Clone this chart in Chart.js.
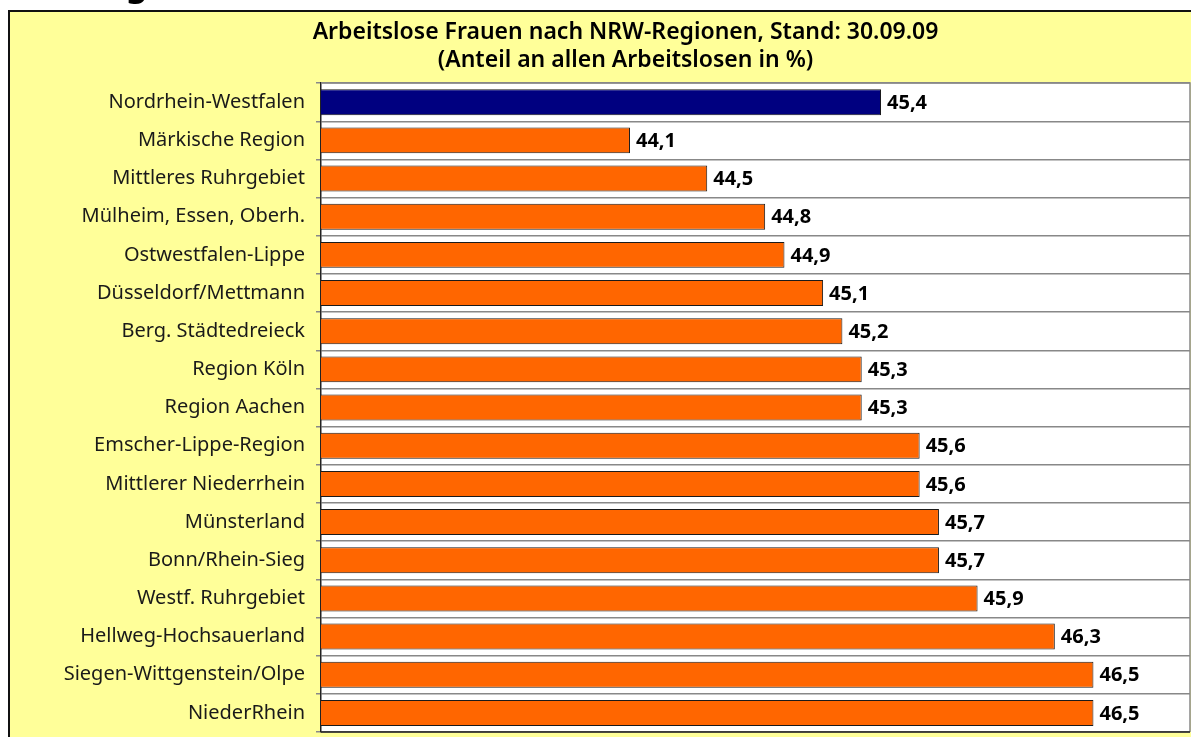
<!DOCTYPE html>
<html>
<head>
<meta charset="utf-8">
<script src="https://cdn.jsdelivr.net/npm/chart.js@4/dist/chart.umd.min.js"></script>
<style>
  html, body { margin: 0; padding: 0; background: #fff; overflow: hidden; }
  #wrap { position: relative; width: 1191px; height: 737px; }
  canvas { display: block; }
</style>
</head>
<body>
<div id="wrap"><canvas id="chart" width="1191" height="737"></canvas></div>
<script>
//////////////// DATA
const regions = [
  'Nordrhein-Westfalen',
  'Märkische Region',
  'Mittleres Ruhrgebiet',
  'Mülheim, Essen, Oberh.',
  'Ostwestfalen-Lippe',
  'Düsseldorf/Mettmann',
  'Berg. Städtedreieck',
  'Region Köln',
  'Region Aachen',
  'Emscher-Lippe-Region',
  'Mittlerer Niederrhein',
  'Münsterland',
  'Bonn/Rhein-Sieg',
  'Westf. Ruhrgebiet',
  'Hellweg-Hochsauerland',
  'Siegen-Wittgenstein/Olpe',
  'NiederRhein',
];

const shares = [45.4, 44.1, 44.5, 44.8, 44.9, 45.1, 45.2, 45.3, 45.3, 45.6, 45.6, 45.7, 45.7, 45.9, 46.3, 46.5, 46.5];

const titleLines = [
  'Arbeitslose Frauen nach NRW-Regionen, Stand: 30.09.09',
  '(Anteil an allen Arbeitslosen in %)',
];

const xMin = 42.5;
const xMax = 47;

const FONT = '"Noto Sans", "Open Sans", sans-serif';

// first bar (NRW total) is navy, all regions orange
const barColors = regions.map((r, i) => (i === 0 ? '#000080' : '#FF6600'));

//////////////// PLUGINS
// yellow frame behind everything + white plot area
const frame = {
  id: 'frame',
  beforeDraw(chart) {
    const ctx = chart.ctx;
    const a = chart.chartArea;
    ctx.save();
    ctx.fillStyle = '#fff';
    ctx.fillRect(0, 0, chart.width, chart.height);

    // cut-off heading above the frame
    ctx.fillStyle = '#000';
    ctx.font = 'bold 34px ' + FONT;
    ctx.textBaseline = 'alphabetic';
    ctx.fillText('g', 126, -4);

    ctx.fillStyle = '#FFFF99';
    ctx.fillRect(8, 10, chart.width, chart.height);
    ctx.strokeStyle = '#111';
    ctx.lineWidth = 2;
    ctx.beginPath();
    ctx.moveTo(9, chart.height + 2);
    ctx.lineTo(9, 11);
    ctx.lineTo(chart.width + 2, 11);
    ctx.stroke();

    ctx.fillStyle = '#fff';
    ctx.fillRect(a.left, a.top, a.right - a.left, a.bottom - a.top);
    ctx.restore();
  },
  afterDraw(chart) {
    const ctx = chart.ctx;
    const a = chart.chartArea;
    ctx.save();
    ctx.strokeStyle = '#888';
    ctx.lineWidth = 1.5;
    ctx.beginPath();
    ctx.moveTo(a.left, a.top);
    ctx.lineTo(a.right, a.top);
    ctx.lineTo(a.right, a.bottom);
    ctx.stroke();
    ctx.strokeStyle = '#222';
    ctx.beginPath();
    ctx.moveTo(a.left, a.bottom);
    ctx.lineTo(a.right, a.bottom);
    ctx.stroke();
    ctx.restore();
  }
};

// values to the right of each bar, German decimal comma
const valueLabels = {
  id: 'valueLabels',
  afterDatasetsDraw(chart) {
    const ctx = chart.ctx;
    const meta = chart.getDatasetMeta(0);
    ctx.save();
    ctx.fillStyle = '#000';
    ctx.font = 'bold 20px ' + FONT;
    ctx.textAlign = 'left';
    ctx.textBaseline = 'middle';
    meta.data.forEach((bar, i) => {
      const txt = shares[i].toFixed(1).replace('.', ',');
      ctx.fillText(txt, bar.x + 6, bar.y + 1);
    });
    ctx.restore();
  }
};

//////////////// CHART
const chartContext = document.getElementById('chart').getContext('2d');

new Chart(chartContext, {
  type: 'bar',
  data: {
    labels: regions,
    datasets: [{
      data: shares,
      backgroundColor: barColors,
      borderColor: '#1a1a1a',
      borderWidth: 1,
      borderSkipped: false,
      categoryPercentage: 1,
      barPercentage: 0.68,
    }],
  },
  options: {
    indexAxis: 'y',
    responsive: false,
    animation: false,
    devicePixelRatio: 1,
    layout: {
      padding: { left: 61, right: 1, top: 0, bottom: 5 },
    },
    scales: {
      x: {
        display: false,
        min: xMin,
        max: xMax,
      },
      y: {
        afterFit(scale) {
          scale.width = 260;
          scale.paddingTop = 0;
          scale.paddingBottom = 0;
        },
        grid: {
          color: '#888',
          lineWidth: 1.5,
          tickLength: 5,
          offset: true,
        },
        border: { color: '#222', width: 1.5 },
        ticks: {
          color: '#1a1a1a',
          padding: 11,
          font: { family: FONT, size: 20 },
        },
      },
    },
    plugins: {
      legend: { display: false },
      tooltip: { enabled: false },
      title: {
        display: true,
        text: titleLines,
        color: '#000',
        font: { family: FONT, size: 23, weight: '600', lineHeight: 1.22 },
        padding: { top: 18, bottom: 9 },
      },
    },
  },
  plugins: [frame, valueLabels],
});
</script>
</body>
</html>
